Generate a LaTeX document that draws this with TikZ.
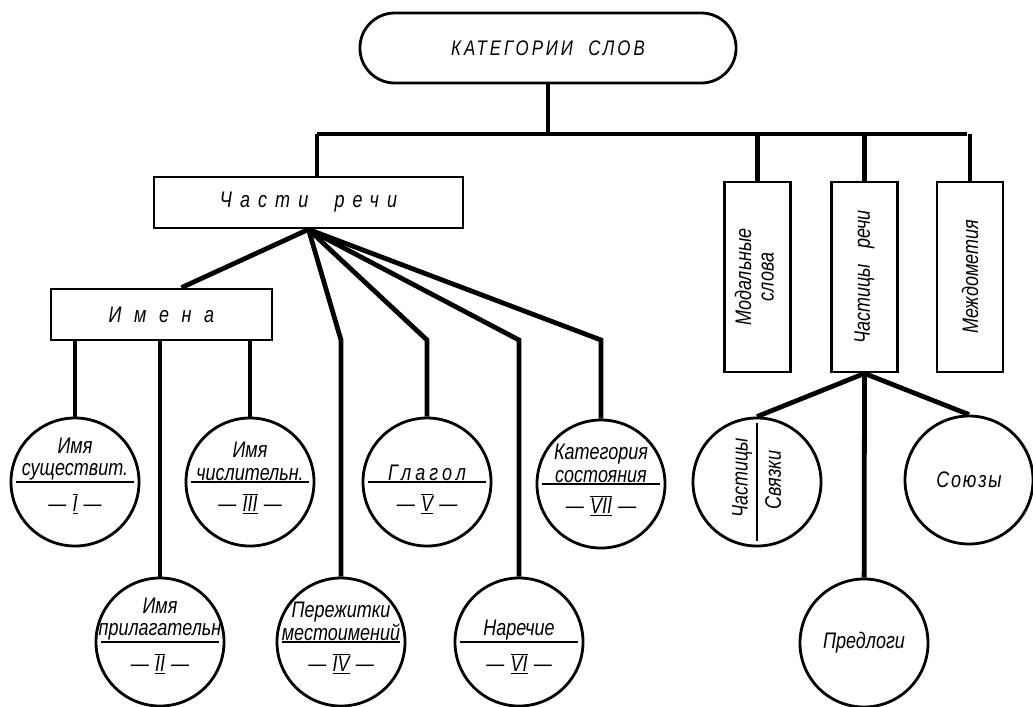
\documentclass[tikz,border=0pt]{standalone}
\usepackage{fontspec}
\setmainfont{Liberation Sans}[FakeStretch=0.8]
\usetikzlibrary{positioning}

\newcommand\rimsk[1]{—\;$\overline{\underline{\hbox{#1}}}$\;—}
\newcommand\razr[2][30]{{\addfontfeature{LetterSpace=#1}#2}}

\begin{document}
\begin{tikzpicture}[x=0.025cm, y=-0.025cm,
		every node/.style = {font=\fontsize{16}{16}\selectfont\itshape},
		ramka/.style = {draw, line width=2pt, minimum height=1.275cm, inner sep=0pt},
		stolb/.style = {draw, line width=2pt, minimum width=1.65cm, minimum height=4.75cm, inner sep=0pt},
		krug/.style = {draw, circle, line width=2pt, minimum size=3.2cm, inner sep=0pt},
		hord/.style = {line width=2pt},
		svyaz/.style = {line width=3.4pt}]

	\useasboundingbox (0,0) rectangle (1033,706);

	% verkh
	\node[ramka, rounded corners=0.87cm, minimum width=9.4cm, minimum height=1.75cm,
		font=\fontsize{15}{16}\selectfont\itshape\addfontfeature{LetterSpace=14}] (kat) at (548,48) {КАТЕГОРИИ\ \ СЛОВ};
	\node[ramka, minimum width=7.725cm] (chast) at (308.5,202.5) {\razr[36]{Части\ \ речи}};
	\node[ramka, minimum width=5.525cm] (imena) at (161.5,314.5) {\razr[56]{Имена}};
	\node[stolb] (modal) at (757.5,277) {\rotatebox{90}{\begin{tabular}{@{}c@{}}Модальные\\слова\end{tabular}}};
	\node[stolb] (chastic) at (864.5,277) {\rotatebox{90}{Частицы\ \ \ речи}};
	\node[stolb] (mezhd) at (970,277) {\rotatebox{90}{Междометия}};

	\coordinate (shl) at (317,134);
	\coordinate (shr) at (967,134);
	\draw[svyaz] (shl) -- (shr);
	\draw[svyaz] (kat) -- (kat |- shl);
	\draw[svyaz] (shl) -- (shl |- chast.north);
	\foreach \b in {modal, chastic, mezhd}
		\draw[svyaz] (\b |- shl) -- (\b);

	% chasti rechi
	\foreach \nm/\x/\y/\txt/\num in {
		sush/75/482/{Имя\\существит.}/I,
		prilag/160/642/{Имя\\прилагательн}/II,
		chisl/250/482/{Имя\\числительн.}/III,
		perezh/341/642/{Пережитки\\местоимений}/IV,
		glag/427/482/{\razr[18]{Глагол}}/V,
		narech/519/642/{Наречие}/VI,
		kateg/601/484/{Категория\\состояния}/VII}
	{
		\node[krug] (\nm) at (\x,\y) {};
		\draw[hord] ([xshift=0.15cm]\nm.west) -- ([xshift=-0.15cm]\nm.east);
		\node[above=0pt of \nm.center, align=center, inner sep=1pt] (\nm-t) {\txt};
		\node[below=0.28cm of \nm.center, inner sep=0pt] (\nm-n) {\rimsk{\num}};
	}

	\coordinate (g4) at (341,340);
	\coordinate (g5) at (427,340);
	\coordinate (g6) at (519,340);
	\coordinate (g7) at (601,340);
	\draw[svyaz] (chast.south) -- ([xshift=0.5cm]imena.north);
	\draw[svyaz] (chast.south) -- (g4) -- (perezh);
	\draw[svyaz] (chast.south) -- (g5) -- (glag);
	\draw[svyaz] (chast.south) -- (g6) -- (narech);
	\draw[svyaz] (chast.south) -- (g7) -- (kateg);
	\foreach \k in {sush, prilag, chisl}
		\draw[svyaz] (imena.south -| \k) -- (\k);

	% chasticy rechi
	\node[krug] (svyazki) at (757,482) {};
	\draw[hord] ([yshift=-0.15cm]svyazki.north) -- ([yshift=0.15cm]svyazki.south);
	\node[rotate=90] (svyazki-l) at (742,478) {Частицы};
	\node[rotate=90] (svyazki-r) at (773,480) {Связки};
	\node[krug] (soyuz) at (969,480) {\razr[8]{Союзы}};
	\node[krug] (predl) at (864,643) {Предлоги};

	\draw[svyaz] (chastic.south) -- (svyazki.north);
	\draw[svyaz] (chastic.south) -- (predl);
	\draw[svyaz] (chastic.south) -- (soyuz.north);
\end{tikzpicture}
\end{document}
